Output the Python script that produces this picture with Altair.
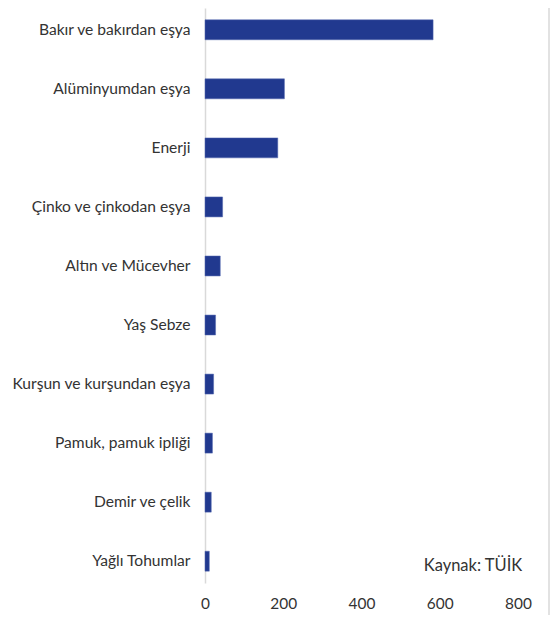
import altair as alt
import pandas as pd

categories = [
    "Bakır ve bakırdan eşya",
    "Alüminyumdan eşya",
    "Enerji",
    "Çinko ve çinkodan eşya",
    "Altın ve Mücevher",
    "Yaş Sebze",
    "Kurşun ve kurşundan eşya",
    "Pamuk, pamuk ipliği",
    "Demir ve çelik",
    "Yağlı Tohumlar",
]
values = [583, 203, 186, 45, 39, 27, 22, 19, 16, 11]
x_ticks = [0, 200, 400, 600, 800]
source_text = "Kaynak: TÜİK"

df = pd.DataFrame({"cat": categories, "val": values})
note = pd.DataFrame({"cat": [categories[-1]], "val": [685], "txt": [source_text]})

FONT = "Lato"
W, H = 313, 575

y_enc = alt.Y(
    "cat:N",
    sort=categories,
    title=None,
    scale=alt.Scale(paddingInner=0.662, paddingOuter=0.2),
    axis=alt.Axis(
        ticks=False,
        domain=True,
        domainColor="#d9d9d9",
        domainWidth=1.5,
        labelPadding=15,
        labelFont=FONT,
        labelFontSize=15.6,
        labelColor="#333333",
        labelLimit=300,
    ),
)
x_enc = alt.X(
    "val:Q",
    title=None,
    scale=alt.Scale(domain=[0, 800], nice=False),
    axis=alt.Axis(
        values=x_ticks,
        grid=False,
        ticks=False,
        domain=False,
        labelPadding=13,
        labelFont=FONT,
        labelFontSize=15.4,
        labelColor="#333333",
        labelFlush=False,
    ),
)

bars = alt.Chart(df).mark_bar(color="#21398F", stroke="#5568b0", strokeWidth=0.5).encode(
    x=x_enc, y=y_enc
)

txt = alt.Chart(note).mark_text(
    font=FONT, fontSize=16.5, color="#333333", align="center", dy=5
).encode(x=alt.X("val:Q"), y=alt.Y("cat:N", sort=categories), text="txt:N")

border = alt.Chart(note).mark_rule(color="#d9d9d9", strokeWidth=1.5).encode(
    x=alt.value(344), y=alt.value(-8), y2=alt.value(H + 32)
)

chart = (
    alt.layer(bars, txt, border)
    .properties(
        width=W,
        height=H,
        padding={"left": 197, "top": 0, "right": 32, "bottom": 32},
        autosize=alt.AutoSizeParams(type="none"),
    )
    .configure_view(stroke=None)
)

chart.save("out.html", embed_options={"renderer": "svg", "actions": False})
